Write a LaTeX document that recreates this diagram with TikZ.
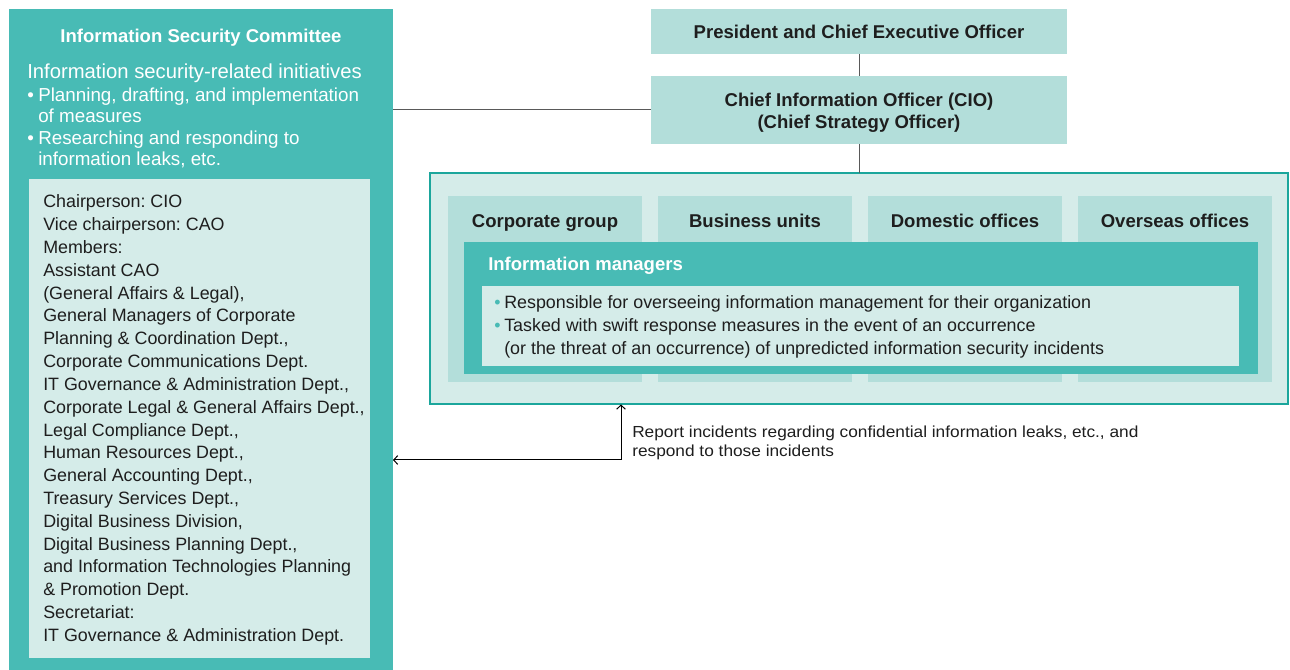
\documentclass[tikz,border=0pt]{standalone}
\usepackage{fontspec}
\setmainfont{Liberation Sans}
\newfontfamily\notefont{Liberation Sans}[FakeStretch=1.08]
\usetikzlibrary{positioning,arrows.meta}
\definecolor{cmTeal}{HTML}{48BBB5}
\definecolor{cmPale}{HTML}{D5ECE9}
\definecolor{cmMint}{HTML}{B3DEDA}
\definecolor{cmEdge}{HTML}{1BA69C}
\definecolor{cmInk}{HTML}{1E1E1E}
\frenchspacing
\tikzset{
  px/.style 2 args={minimum width=#1*0.75pt,minimum height=#2*0.75pt},
  panel/.style={draw=none,inner sep=0pt,outer sep=0pt},
  headtxt/.style={font=\fontsize{13.9}{16.5}\selectfont\bfseries,text=cmInk,align=center},
  bodytxt/.style={font=\fontsize{13.4}{17}\selectfont,text=cmInk,anchor=base west,inner sep=0pt},
  whitetxt/.style={font=\fontsize{14.1}{16}\selectfont,text=white,anchor=base west,inner sep=0pt},
  notetxt/.style={font=\notefont\fontsize{12}{14}\selectfont,text=cmInk,anchor=base west,inner sep=0pt},
  link/.style={draw=black!65,line width=0.75pt},
  report/.style={draw=black,line width=0.75pt,{Straight Barb[length=3pt,width=6.5pt]}-{Straight Barb[length=3pt,width=6.5pt]}}
}
\begin{document}
\begin{tikzpicture}[x=0.75pt,y=-0.75pt]
\useasboundingbox (0,0) rectangle (1290,670);
% committee (left)
\node[panel,fill=cmTeal,px={384}{661}] (isc) at (201,339.5) {};
\node[panel,fill=cmPale,px={341}{479}] (members) at (199.5,418.5) {};
\node[headtxt,text=white,anchor=base,inner sep=0pt] (iscTitle) at (201,43) {Information Security Committee};
\node[whitetxt,font=\fontsize{15.2}{18}\selectfont] (iscAims) at (27,79) {Information security-related initiatives};
\foreach \y/\txt in {102/{Planning, drafting, and implementation},123/{of measures},145/{Researching and responding to},166/{information leaks, etc.}}
  \node[whitetxt] (aim\y) at (38,\y) {\txt};
\foreach \y in {102,145}
  \node[whitetxt] (dot\y) at (27,\y) {\textbullet};
\foreach \txt [count=\k] in {{Chairperson: CIO},{Vice chairperson: CAO},{Members:},{Assistant CAO},
  {(General Affairs \& Legal),},{General Managers of Corporate},{Planning \& Coordination Dept.,},
  {Corporate Communications Dept.},{IT Governance \& Administration Dept.,},
  {Corporate Legal \& General Affairs Dept.,},{Legal Compliance Dept.,},{Human Resources Dept.,},
  {General Accounting Dept.,},{Treasury Services Dept.,},{Digital Business Division,},
  {Digital Business Planning Dept.,},{and Information Technologies Planning},
  {\& Promotion Dept.},{Secretariat:},{IT Governance \& Administration Dept.}}
  \node[bodytxt] (mem\k) at (43,{208+22.8*(\k-1)}) {\txt};
% management chain (right)
\node[panel,fill=cmMint,px={416}{45},headtxt] (ceo) at (859,31.5) {President and Chief Executive Officer};
\node[panel,fill=cmMint,px={416}{68}] (cio) at (859,110) {};
\node[headtxt,inner sep=0pt] (cioTxt) at (859,113) {Chief Information Officer (CIO)\\(Chief Strategy Officer)};
\node[panel,fill=cmPale,draw=cmEdge,line width=1.5pt,px={858}{231}] (org) at (859,289) {};
\foreach \x/\name/\txt in {545/corp/Corporate group,755/biz/Business units,965/dom/Domestic offices,1175/ovs/Overseas offices} {
  \node[panel,fill=cmMint,px={194}{186}] (\name) at (\x,289) {};
  \node[headtxt,anchor=base,inner sep=0pt] (\name Label) at (\x,228) {\txt};
}
\node[panel,fill=cmTeal,px={794}{132}] (mgr) at (861,308) {};
\node[headtxt,text=white,anchor=base west,inner sep=0pt] (mgrTitle) at (488,271) {Information managers};
\node[panel,fill=cmPale,px={757}{80}] (duties) at (860.5,326) {};
\foreach \y in {309,332}
  \node[bodytxt,text=cmTeal] (mark\y) at (494,\y) {\textbullet};
\node[bodytxt] (duty1) at (504,309) {Responsible for overseeing information management for their organization};
\node[bodytxt] (duty2) at (504,332) {Tasked with swift response measures in the event of an occurrence};
\node[bodytxt] (duty3) at (504,355) {(or the threat of an occurrence) of unpredicted information security incidents};
% connectors
\draw[link] (ceo) -- (cio);
\draw[link] (cio) -- (org);
\draw[link] (cio.west) -- (cio.west -| isc.east);
\coordinate (turn) at (621,460);
\draw[report] (isc.east |- turn) -- (turn) -- (turn |- org.south);
\node[notetxt] (note1) at (632,438) {Report incidents regarding confidential information leaks, etc., and};
\node[notetxt] (note2) at (632,457) {respond to those incidents};
\end{tikzpicture}
\end{document}
